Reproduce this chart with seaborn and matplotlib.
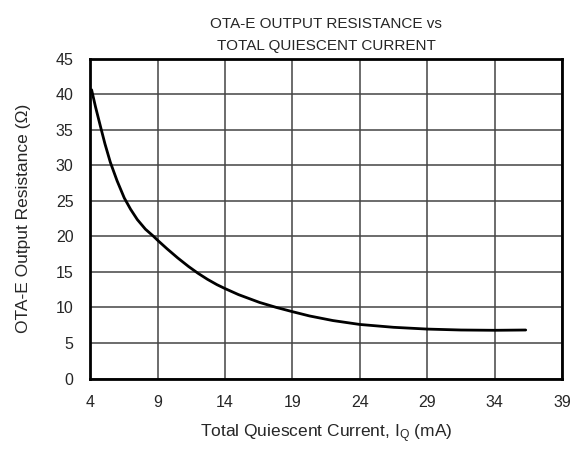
import matplotlib
matplotlib.use("Agg")
import matplotlib.pyplot as plt
import seaborn as sns
import pandas as pd

# values
iq_ma = [4.11, 4.4, 4.8, 5.1, 5.5, 6.0, 6.53, 7.0, 7.5, 8.1, 8.7, 9.0,
         9.7, 10.5, 11.3, 12.0, 12.7, 13.4, 14.0, 15.0, 15.85, 16.56, 17.8,
         19.0, 20.26, 22.0, 24.0, 26.5, 29.0, 31.5, 34.0, 36.3]
r_out = [40.6, 38.2, 35.2, 33.0, 30.4, 27.8, 25.4, 23.8, 22.35, 21.0, 20.0,
         19.45, 18.25, 16.95, 15.75, 14.8, 13.95, 13.2, 12.65, 11.8, 11.2,
         10.7, 10.0, 9.4, 8.8, 8.15, 7.6, 7.2, 6.95, 6.82, 6.78, 6.82]
x_ticks = [4, 9, 14, 19, 24, 29, 34, 39]
y_ticks = [0, 5, 10, 15, 20, 25, 30, 35, 40, 45]

df = pd.DataFrame({"iq": iq_ma, "r": r_out})

sns.set_style("white")
plt.rcParams["font.family"] = ["Liberation Sans", "DejaVu Sans"]
plt.rcParams["mathtext.default"] = "regular"

fig = plt.figure(figsize=(5.74, 4.49), dpi=100)
ax = fig.add_axes([0.157, 0.157, 0.8223, 0.7127])

sns.lineplot(data=df, x="iq", y="r", ax=ax, color="black", linewidth=2)

ax.set_xlim(4, 39)
ax.set_ylim(0, 45)
ax.set_xticks(x_ticks)
ax.set_yticks(y_ticks)
ax.grid(True, color="#444444", linewidth=1.1)
for s in ax.spines.values():
    s.set_color("black")
    s.set_linewidth(2)
ax.tick_params(axis="x", labelsize=11.5, length=0, pad=12)
ax.tick_params(axis="y", labelsize=11.5, length=0, pad=12)

ax.set_xlabel("Total Quiescent Current, I$_Q$ (mA)", fontsize=12.5, labelpad=9)
ax.set_ylabel("OTA-E Output Resistance (\u03a9)", fontsize=12.5, labelpad=18)
ax.set_title("OTA-E OUTPUT RESISTANCE vs\nTOTAL QUIESCENT CURRENT",
             fontsize=11, pad=6, linespacing=1.7)

fig.savefig("out.png", dpi=100)
